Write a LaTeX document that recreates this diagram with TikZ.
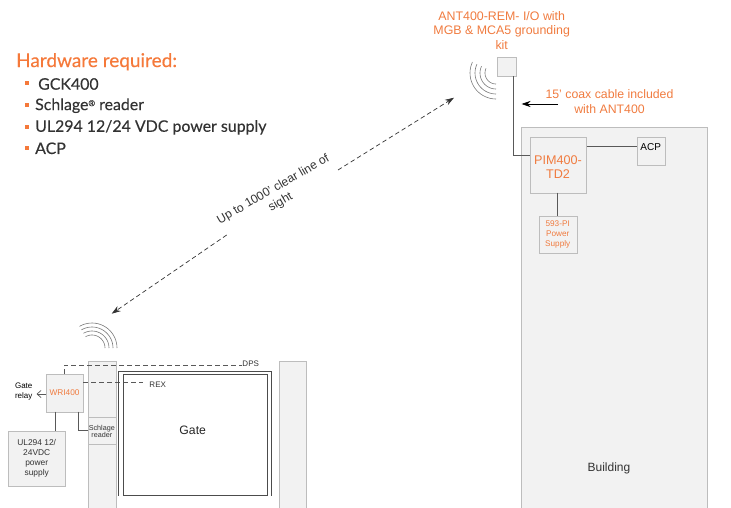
\documentclass[tikz,border=0pt]{standalone}
\usepackage{fontspec}
\setmainfont{Liberation Sans}
\newfontfamily\headfont[FakeBold=0.25]{Lato}
\usetikzlibrary{arrows.meta}
\definecolor{orangetxt}{HTML}{F07B3F}
\definecolor{headorange}{HTML}{F5793A}
\definecolor{boxfill}{HTML}{F2F2F2}
\definecolor{boxline}{HTML}{BDBDBD}
\definecolor{wire}{HTML}{595959}
\definecolor{bodytxt}{HTML}{333333}
\newcommand{\fs}[1]{\fontsize{#1}{#1}\selectfont}
\tikzset{
  x=1pt,y=-1pt,
  greybox/.style={draw=boxline,fill=boxfill,line width=0.8pt,inner sep=0pt,anchor=north west},
  wireline/.style={draw=wire,line width=0.9pt},
  dashline/.style={draw=wire,line width=0.8pt,dash pattern=on 5pt off 3pt},
  wave/.style={draw=wire!80,line width=0.6pt},
  frameline/.style={draw=black!70,line width=0.9pt},
  linkline/.style={draw=black!80,line width=0.7pt,dash pattern=on 4.5pt off 3pt},
  tiplink/.style={-{Stealth[length=9pt,width=6pt]}},
  otext/.style={text=orangetxt,align=center,inner sep=0pt},
  gtext/.style={text=bodytxt,align=center,inner sep=0pt},
  listitem/.style={text=bodytxt,anchor=west,inner sep=0pt,font=\headfont\fs{15.9}},
  bulletbox/.style={fill=headorange,inner sep=0pt,minimum size=4pt},
}
\newcommand{\boxat}[6][]{\node[greybox,minimum width=#5 pt-#3 pt,minimum height=#6 pt-#4 pt,#1] (#2) at (#3,#4) {};}
\begin{document}
\begin{tikzpicture}
\useasboundingbox (0,0) rectangle (731,508);
% building side
\boxat{building}{520.7}{127}{706.7}{507.6}
\node[gtext,font=\fs{12}] (buildinglabel) at (609,468) {Building};
\boxat{pim}{530}{136.7}{585.7}{192.7}
\boxat{acp}{636.7}{136.7}{665}{165}
\boxat{psu}{539.3}{216}{576.7}{253}
\boxat{ant}{497.3}{57.3}{516.3}{76.3}
\node[otext,font=\fs{12.6}] at (558,167) {PIM400-\\[1.6pt]TD2};
\node[gtext,font=\fs{10},text=black] at (650.7,146.7) {ACP};
\node[otext,font=\fs{8.2}] at (557.7,234.3) {593-PI\\[1.9pt]Power\\[1.9pt]Supply};
\node[otext,font=\fs{12.4},align=center] at (501.7,30.4) {ANT400-REM- I/O with\\[2.3pt]MGB \& MCA5 grounding\\[2.3pt]kit};
\node[otext,font=\fs{12.3}] at (609.5,101.3) {15' coax cable included\\[2.4pt]with ANT400};
\coordinate (antbend) at (513,155);
\coordinate (antdrop) at (513,76.3);
\draw[wireline] (antdrop) -- (antbend) -- (pim.west |- antbend);
\draw[wireline] (pim.east |- 0,146) -- (acp.west |- 0,146);
\draw[wireline] (557.3,192.7) -- (557.3,216);
\coordinate (coaxs) at (558,104);
\coordinate (coaxe) at (521.5,104);
\draw[draw=black,line width=0.7pt,-{Stealth[length=9pt,width=6pt]}] (coaxs) -- (coaxe);
\foreach \r in {26,21,16,11}
  \draw[wave,smooth,samples=20,domain=90:205] plot ({496+\r*cos(\x)},{73+\r*sin(\x)});
% gate side
\foreach \r in {25,21,17,13}
  \draw[wave,smooth,samples=20,domain=240:360] plot ({92+\r*cos(\x)},{348+\r*sin(\x)});
\boxat{postl}{87.7}{360.7}{115.7}{507.6}
\boxat{postr}{278.7}{360.7}{306.3}{507.6}
\boxat{reader}{87.7}{416.7}{115.7}{444.3}
\boxat{wri}{46}{374.3}{83}{411.7}
\boxat{ul}{8.3}{430.7}{64.7}{486}
\node[otext,font=\fs{8.3}] at (64.5,393) {WRI400};
\node[gtext,font=\fs{7.2}] at (101.8,431.8) {Schlage\\[-0.1pt]reader};
\node[gtext,font=\fs{8.4}] at (36.7,458.3) {UL294 12/\\[1.6pt]24VDC\\[1.6pt]power\\[1.6pt]supply};
\node[gtext,font=\fs{8},text=black] at (23.7,391.8) {Gate\\[1.9pt]relay};
\node[gtext,font=\fs{8}] (dps) at (250.7,364) {DPS};
\node[gtext,font=\fs{8}] (rex) at (157.7,384.7) {REX};
\node[gtext,font=\fs{12.2},text=black!85] (gate) at (192.7,430.7) {Gate};
\draw[dashline] (64.3,374.3) -- (64.3,365.3) -- (241.7,365.3);
\draw[dashline] (83,382.7) -- (143.3,382.7);
\draw[wireline] (55.3,411.7) -- (55.3,430.7);
\draw[wireline] (78.7,411.7) -- (78.7,430) -- (87.7,430);
\coordinate (relays) at (46,394);
\coordinate (relaye) at (36.5,394);
\draw[draw=wire,line width=0.7pt,-{Straight Barb[length=4pt,width=7pt]}] (relays) -- (relaye);
\draw[frameline] (118.3,495.7) -- (118.3,371) -- (271.7,371) -- (271.7,495.7);
\draw[frameline] (123.3,374) rectangle (267.7,495.7);
% radio link
\coordinate (linka) at (338,170);
\coordinate (linkb) at (454,97.7);
\coordinate (linkc) at (226.7,235);
\coordinate (linkd) at (111.7,313.7);
\draw[linkline,tiplink] (linka) -- (linkb);
\draw[linkline,tiplink] (linkc) -- (linkd);
\node[gtext,font=\fs{12.1},rotate=30] (linklabel) at (277,196) {Up to 1000' clear line of\\[2.6pt]sight};
% hardware list
\node[anchor=west,inner sep=0pt,text=headorange,font=\headfont\fs{19}] (hw) at (16,61.7) {Hardware required:};
\node[bulletbox] at (26.7,83.5) {};
\node[bulletbox] at (26.7,105.5) {};
\node[bulletbox] at (26.7,127) {};
\node[bulletbox] at (26.7,148) {};
\node[listitem] at (38,84) {GCK400};
\node[listitem] at (35,105.7) {Schlage\raisebox{4pt}{\fs{8}®} reader};
\node[listitem] at (35,127.3) {UL294 12/24 VDC power supply};
\node[listitem] at (35,148.3) {ACP};
\end{tikzpicture}
\end{document}
